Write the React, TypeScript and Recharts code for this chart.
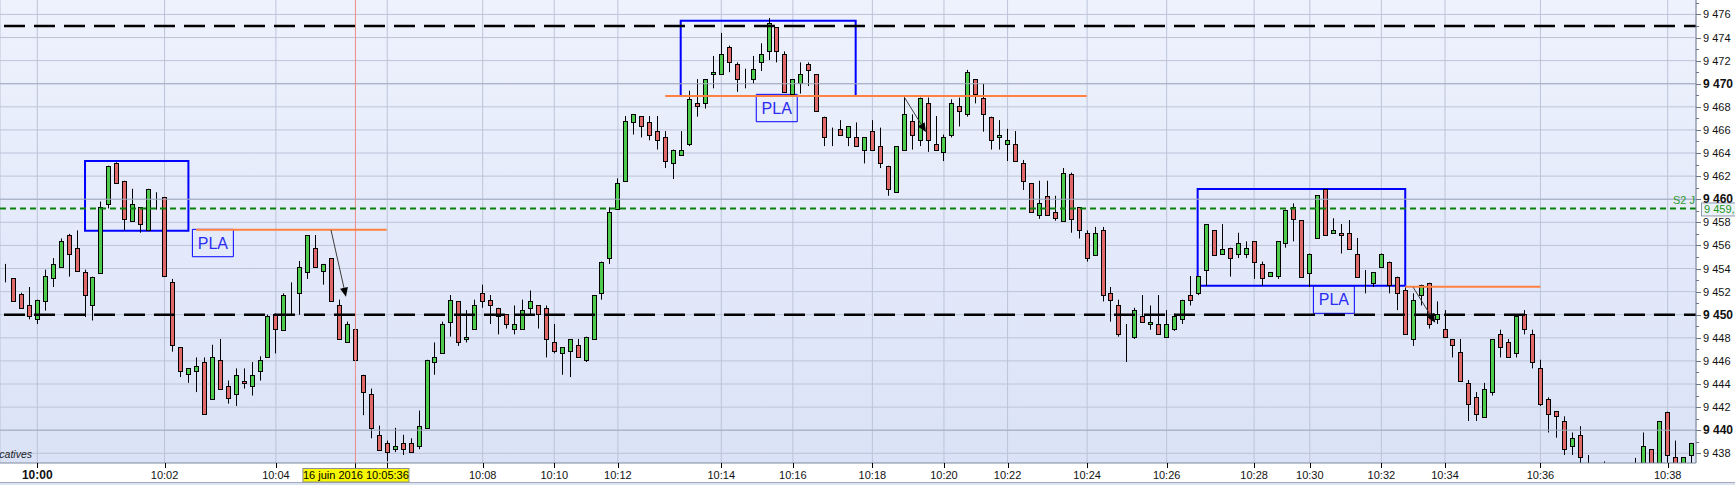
import React from "react";
import { ComposedChart, Bar, XAxis, YAxis, CartesianGrid, ReferenceLine, ReferenceArea } from "recharts";

// 10-second candles, index 0..212
const OPEN = [
  9452.8, 9453.15, 9451.8, 9450.8, 9449.6, 9451.2, 9453.15, 9454.1, 9456.9, 9455.8,
  9453.7, 9450.8, 9453.6, 9459.6, 9463.1, 9461.6, 9458.1, 9459.3, 9457.3, 9460.4,
  9460.2, 9452.8, 9447.2, 9444.9, 9445.1, 9445.9, 9442.7, 9446.1, 9443.8, 9443.1,
  9444.3, 9443.8, 9445.1, 9446.3, 9450.05, 9448.7, 9452.1, 9451.85, 9453.7, 9455.8,
  9453.8, 9454.9, 9450.8, 9447.6, 9448.8, 9444.8, 9443.1, 9439.6, 9438.9, 9438.35,
  9438.9, 9438.9, 9438.6, 9440.2, 9445.9, 9446.65, 9449.4, 9451.15, 9447.9, 9448.8,
  9451.85, 9451.3, 9450.6, 9450.05, 9448.8, 9448.8, 9450.6, 9450.8, 9450.6, 9447.6,
  9446.65, 9446.85, 9447.35, 9446.1, 9447.9, 9451.85, 9454.9, 9459.15, 9461.6, 9466.65,
  9467.2, 9466.65, 9465.9, 9465.35, 9463.1, 9463.8, 9464.8, 9468.3, 9468.3, 9470.8,
  9470.8, 9473.15, 9471.7, 9470.15, 9470.4, 9471.85, 9472.8, 9474.9, 9472.6, 9469.15,
  9470.1, 9471.7, 9470.8, 9467.15, 9465.9, 9466.1, 9465.35, 9465.35, 9464.3, 9465.9,
  9464.6, 9462.9, 9460.65, 9464.3, 9466.8, 9465.1, 9468.3, 9464.8, 9464.1, 9465.6,
  9468.1, 9467.4, 9470.4, 9468.8, 9467.15, 9465.35, 9464.8, 9464.8, 9463.1, 9461.4,
  9458.6, 9460.3, 9458.86, 9458.14, 9462.2, 9459.3, 9457.1, 9455.14, 9457.3, 9451.85,
  9450.8, 9447.9, 9448.1, 9449.9, 9449.2, 9449.2, 9448.1, 9448.8, 9449.6, 9451.7,
  9451.85, 9453.87, 9457.3, 9455.3, 9455.8, 9455.3, 9455.3, 9456.35, 9454.4, 9453.35,
  9453.35, 9456.2, 9459.3, 9458.2, 9453.64, 9456.6, 9460.9, 9457.1, 9457.1, 9457.1,
  9455.3, 9453.2, 9452.77, 9454.1, 9454.6, 9453.3, 9452.1, 9447.9, 9451.7, 9452.77,
  9449.6, 9448.8, 9447.9, 9446.8, 9444.1, 9442.85, 9441.1, 9443.3, 9448.3, 9447.6,
  9446.65, 9450.1, 9448.3, 9445.35, 9442.7, 9441.66, 9440.8, 9438.6, 9439.6, 9436.9,
  9436.4, 9436.2, 9436.5, 9435.9, 9436.3, 9436.6, 9436.9, 9438.35, 9436.8, 9441.6,
  9437.65, 9436.6, 9437.85,
];
const HIGH = [
  9454.4, 9453.15, 9451.9, 9452.4, 9451.3, 9453.9, 9454.9, 9456.6, 9457.0, 9457.3,
  9453.9, 9453.3, 9459.8, 9462.9, 9463.2, 9461.6, 9460.9, 9459.3, 9460.9, 9460.6,
  9460.2, 9453.1, 9447.2, 9445.35, 9446.3, 9446.3, 9447.4, 9447.9, 9444.3, 9445.35,
  9445.35, 9445.9, 9446.4, 9450.0, 9450.1, 9451.85, 9452.8, 9454.65, 9456.9, 9456.9,
  9454.4, 9454.9, 9451.3, 9449.4, 9449.65, 9444.8, 9443.6, 9440.4, 9439.1, 9440.2,
  9439.6, 9439.3, 9441.7, 9446.1, 9447.6, 9449.4, 9451.7, 9451.15, 9450.4, 9451.3,
  9452.6, 9451.7, 9450.6, 9450.05, 9450.8, 9451.3, 9452.1, 9450.8, 9450.8, 9449.2,
  9447.2, 9447.9, 9447.9, 9448.1, 9451.7, 9454.6, 9459.3, 9461.8, 9467.2, 9467.35,
  9467.2, 9467.2, 9467.2, 9465.9, 9464.3, 9465.9, 9469.4, 9470.4, 9470.4, 9472.4,
  9474.4, 9473.3, 9471.85, 9471.3, 9472.4, 9473.5, 9475.7, 9474.9, 9472.8, 9470.4,
  9471.85, 9471.85, 9470.8, 9467.15, 9466.2, 9466.85, 9466.3, 9466.65, 9465.35, 9466.85,
  9466.2, 9462.9, 9464.6, 9468.9, 9467.35, 9468.8, 9468.8, 9467.2, 9465.6, 9468.65,
  9468.8, 9471.2, 9470.4, 9470.0, 9467.15, 9466.85, 9466.1, 9465.9, 9463.4, 9461.4,
  9461.6, 9461.6, 9460.3, 9462.7, 9462.3, 9459.3, 9457.3, 9457.6, 9457.6, 9452.4,
  9451.3, 9449.2, 9450.6, 9451.7, 9450.8, 9451.7, 9450.4, 9450.1, 9451.3, 9453.35,
  9453.35, 9457.85, 9457.3, 9457.85, 9455.8, 9457.1, 9456.35, 9456.35, 9454.6, 9453.7,
  9456.35, 9459.1, 9459.64, 9458.2, 9455.3, 9460.33, 9460.9, 9458.35, 9457.85, 9458.2,
  9456.64, 9453.87, 9453.7, 9455.3, 9454.6, 9453.3, 9452.4, 9451.85, 9452.6, 9452.77,
  9451.15, 9450.4, 9447.9, 9447.9, 9444.35, 9443.3, 9444.1, 9447.9, 9448.7, 9447.9,
  9449.9, 9450.4, 9448.7, 9446.1, 9442.85, 9441.66, 9441.2, 9439.8, 9440.35, 9437.85,
  9436.9, 9437.3, 9436.9, 9436.6, 9436.9, 9437.6, 9439.8, 9438.35, 9440.8, 9441.6,
  9439.1, 9437.65, 9438.9,
];
const LOW = [
  9452.8, 9451.2, 9450.6, 9449.6, 9449.2, 9450.35, 9452.4, 9454.1, 9453.3, 9453.8,
  9449.8, 9449.5, 9453.6, 9459.2, 9461.4, 9457.3, 9458.1, 9457.1, 9457.3, 9459.1,
  9453.35, 9446.8, 9444.6, 9444.1, 9443.3, 9441.4, 9442.7, 9443.6, 9442.3, 9442.1,
  9443.6, 9443.0, 9444.3, 9446.3, 9446.65, 9448.7, 9450.0, 9450.0, 9453.1, 9454.1,
  9452.6, 9451.15, 9447.9, 9447.6, 9446.1, 9441.3, 9439.3, 9438.3, 9437.3, 9438.1,
  9437.85, 9438.1, 9438.35, 9440.2, 9444.8, 9446.65, 9448.1, 9447.3, 9447.6, 9448.8,
  9450.6, 9449.2, 9448.3, 9448.8, 9448.3, 9448.8, 9449.9, 9448.8, 9446.3, 9446.65,
  9444.8, 9444.6, 9446.3, 9445.9, 9447.9, 9451.3, 9454.4, 9459.15, 9461.6, 9465.6,
  9465.35, 9465.1, 9464.3, 9462.7, 9461.75, 9463.8, 9464.6, 9467.15, 9467.85, 9469.6,
  9470.8, 9471.0, 9469.3, 9469.6, 9470.0, 9471.1, 9472.05, 9471.85, 9469.3, 9469.15,
  9469.15, 9469.8, 9467.6, 9464.6, 9464.6, 9465.6, 9464.6, 9464.6, 9463.1, 9464.3,
  9462.7, 9460.3, 9460.65, 9464.3, 9464.3, 9464.6, 9464.1, 9464.3, 9463.3, 9465.35,
  9466.3, 9467.15, 9468.3, 9465.85, 9464.3, 9464.3, 9463.3, 9463.3, 9460.8, 9458.86,
  9458.3, 9458.6, 9458.14, 9458.14, 9457.1, 9456.6, 9454.6, 9455.14, 9451.15, 9449.4,
  9448.1, 9445.9, 9447.9, 9449.4, 9448.7, 9448.3, 9448.1, 9448.6, 9449.2, 9450.8,
  9451.7, 9452.5, 9455.14, 9455.3, 9453.3, 9454.9, 9454.9, 9453.1, 9452.5, 9453.35,
  9453.1, 9455.8, 9456.35, 9453.3, 9452.4, 9456.6, 9456.9, 9457.1, 9455.3, 9455.66,
  9453.3, 9451.85, 9452.4, 9454.1, 9451.85, 9450.4, 9448.3, 9447.3, 9450.8, 9448.8,
  9449.2, 9448.1, 9446.3, 9444.3, 9440.8, 9440.8, 9441.1, 9443.0, 9446.3, 9446.3,
  9446.3, 9448.3, 9445.35, 9442.1, 9439.8, 9439.35, 9437.85, 9437.85, 9436.9, 9436.0,
  9435.8, 9435.6, 9435.5, 9435.2, 9435.6, 9436.2, 9436.5, 9436.3, 9436.5, 9436.8,
  9436.2, 9436.3, 9436.8,
];
const CLOSE = [
  9452.8, 9451.2, 9450.6, 9449.9, 9451.3, 9453.35, 9454.35, 9456.35, 9455.3, 9453.8,
  9451.7, 9453.3, 9459.3, 9462.9, 9461.4, 9458.3, 9459.6, 9457.85, 9460.85, 9460.4,
  9453.35, 9447.4, 9445.1, 9445.35, 9445.6, 9441.4, 9446.3, 9443.6, 9442.8, 9444.8,
  9444.1, 9444.8, 9446.1, 9449.9, 9448.8, 9451.7, 9452.1, 9454.1, 9456.9, 9454.1,
  9454.4, 9451.15, 9447.9, 9449.2, 9446.1, 9443.3, 9440.2, 9438.3, 9438.1, 9438.6,
  9438.35, 9438.1, 9440.4, 9446.1, 9446.3, 9449.2, 9451.3, 9447.6, 9448.1, 9450.8,
  9451.15, 9450.8, 9449.9, 9449.2, 9449.2, 9450.4, 9451.15, 9450.1, 9447.9, 9446.85,
  9447.2, 9447.9, 9446.3, 9448.1, 9451.7, 9454.6, 9458.9, 9461.4, 9466.8, 9467.35,
  9466.3, 9465.6, 9465.1, 9463.3, 9464.3, 9464.3, 9468.65, 9468.1, 9470.4, 9471.0,
  9472.6, 9471.85, 9470.4, 9470.15, 9471.3, 9472.6, 9475.3, 9472.8, 9469.3, 9470.4,
  9470.85, 9471.2, 9467.6, 9465.35, 9465.9, 9465.6, 9466.3, 9464.6, 9465.35, 9464.3,
  9463.1, 9460.9, 9464.6, 9467.35, 9465.6, 9468.8, 9465.1, 9464.3, 9465.35, 9468.3,
  9467.6, 9471.0, 9469.15, 9467.35, 9465.1, 9465.6, 9465.1, 9463.3, 9461.6, 9458.86,
  9459.64, 9458.6, 9458.35, 9462.3, 9458.3, 9457.3, 9454.9, 9457.1, 9451.7, 9451.3,
  9448.3, 9447.9, 9450.4, 9449.4, 9449.4, 9448.3, 9449.2, 9449.9, 9451.3, 9451.3,
  9453.35, 9457.85, 9455.14, 9455.66, 9454.9, 9456.2, 9455.8, 9454.6, 9453.15, 9453.7,
  9456.35, 9459.1, 9458.3, 9453.3, 9455.3, 9460.33, 9456.9, 9457.3, 9456.9, 9455.66,
  9453.3, 9453.2, 9453.7, 9455.3, 9452.6, 9451.85, 9448.3, 9451.3, 9452.6, 9449.2,
  9450.1, 9448.1, 9447.35, 9444.3, 9442.3, 9441.4, 9443.6, 9447.9, 9447.2, 9446.3,
  9449.9, 9448.8, 9445.9, 9442.3, 9441.4, 9441.2, 9438.35, 9439.3, 9437.65, 9436.4,
  9436.0, 9436.6, 9435.9, 9436.3, 9436.6, 9436.9, 9438.6, 9436.8, 9440.8, 9437.85,
  9436.6, 9437.65, 9438.9,
];

const TIME_TICKS = [4, 20, 34, 48, 60, 69, 77, 90, 99, 109, 118, 126, 136, 146, 157, 164, 173, 181, 193, 209];
const TIME_LABELS = ["10:00", "10:02", "10:04", "10:06", "10:08", "10:10", "10:12", "10:14", "10:16", "10:18",
  "10:20", "10:22", "10:24", "10:26", "10:28", "10:30", "10:32", "10:34", "10:36", "10:38"];

const PRICE_LABELS = [9438, 9440, 9442, 9444, 9446, 9448, 9450, 9452, 9454, 9456,
  9458, 9460, 9462, 9464, 9466, 9468, 9470, 9472, 9474, 9476];
const PRICE_MINOR = [9439, 9441, 9443, 9445, 9447, 9449, 9451, 9453, 9455, 9457,
  9459, 9461, 9463, 9465, 9467, 9469, 9471, 9473, 9475, 9477];

// annotations (data coordinates: candle index, price)
const DASHED_LEVELS = [9475, 9450];
const S2_LEVEL = 9459.2;
const BOX_X1 = [10, 84.9, 149.9];
const BOX_X2 = [23, 106.9, 176];
const BOX_Y1 = [9457.27, 9468.94, 9452.51];
const BOX_Y2 = [9463.31, 9475.45, 9460.88];
const PLA_X1 = [23.5, 94.4, 164.45];
const PLA_X2 = [28.65, 99.55, 169.6];
const PLA_Y1 = [9455.02, 9466.71, 9450.12];
const PLA_Y2 = [9457.39, 9469.08, 9452.51];
const ORANGE_X1 = [23.96, 82.96, 176];
const ORANGE_X2 = [47.93, 135.95, 193];
const ORANGE_Y = [9457.36, 9468.94, 9452.42];
const ARROW_X1 = [40.93, 113.0, 177.0];
const ARROW_Y1 = [9457.33, 9468.85, 9452.37];
const ARROW_X2 = [42.81, 115.74, 179.77];
const ARROW_Y2 = [9451.56, 9465.82, 9449.3];
const CURSOR_INDEX = 44;
const CURSOR_TEXT = "16 juin 2016 10:05:36";

const X_MIN = -0.69;
const X_MAX = 212.56;
const Y_MIN = 9437.16;
const Y_MAX = 9477.25;

const GREEN = "#4ccb4c";
const RED = "#e06868";
const GRID = "#bcc4d8";

const rows = OPEN.map((o, i) => ({ i, o, h: HIGH[i], l: LOW[i], c: CLOSE[i], range: [LOW[i], HIGH[i]] }));

const fmtPrice = (v: number) => `${Math.floor(v / 1000)} ${String(v % 1000).padStart(3, "0")}`;

const Candle = (props: any) => {
  const { x, y, width, height, payload } = props;
  if (!payload || x == null || y == null) return null;
  const { o, h, l, c } = payload;
  const k = h > l ? height / (h - l) : 0;
  const py = (v: number) => y + (h - v) * k;
  const cx = Math.round(x + width / 2);
  const top = Math.round(py(Math.max(o, c)));
  const bot = Math.round(py(Math.min(o, c)));
  return (
    <g>
      <line x1={cx + 0.5} x2={cx + 0.5} y1={py(h)} y2={py(l)} stroke="#000" strokeWidth={1} />
      <rect x={cx - 1.5} y={top + 0.5} width={4} height={Math.max(bot - top, 0)}
        fill={c === o ? "#000" : c > o ? GREEN : RED} stroke="#000" strokeWidth={1} />
    </g>
  );
};

const TimeTick = ({ x, y, payload }: any) => {
  const label = TIME_LABELS[TIME_TICKS.indexOf(payload.value)];
  const bold = label === "10:00";
  // the cursor time stamp hides the label underneath it
  const hidden = Math.abs(payload.value - CURSOR_INDEX) < 7;
  const px = Math.round(x) + 0.5;
  return (
    <g>
      <line x1={px} x2={px} y1={y} y2={y + 5} stroke="#000" />
      {!hidden && (
        <text x={x} y={y + 16} textAnchor="middle" fontSize={bold ? 12 : 11}
          fontWeight={bold ? "bold" : "normal"} fill="#111">{label}</text>
      )}
    </g>
  );
};

const PriceTick = ({ x, y, payload }: any) => {
  const v = payload.value;
  const major = v % 2 === 0;
  const bold = v % 10 === 0;
  const py = Math.round(y) + 0.5;
  return (
    <g>
      <line x1={x} x2={x + (major ? 5 : 3)} y1={py} y2={py} stroke="#6d7688" />
      {major && (
        <text x={x + 7} y={y + 4} fontSize={bold ? 12 : 11} fontWeight={bold ? "bold" : "normal"} fill="#111">
          {fmtPrice(v)}
        </text>
      )}
    </g>
  );
};

const S2Label = (props: any) => {
  const { x, y, width } = props.viewBox;
  const right = x + width;
  return (
    <g>
      <text x={right - 1} y={y - 4} textAnchor="end" fontSize={11} fill="#2f9a2f">S2 J</text>
      <rect x={right + 5.5} y={y - 5.5} width={40} height={13} fill="#eef2fb" stroke="#8e99ad" />
      <text x={right + 8} y={y + 4.5} fontSize={11} fill="#1c9a1c">9 459,2</text>
    </g>
  );
};

const CursorLabel = (props: any) => {
  const { x, y, height } = props.viewBox;
  const bottom = y + height;
  const px = Math.round(x) + 0.5;
  return (
    <g>
      <line x1={px} x2={px} y1={bottom} y2={bottom + 5} stroke="#000" />
      <rect x={x - 52.5} y={bottom + 5.5} width={106} height={13.5} fill="#f7f700" stroke="#8f8f8f" />
      <text x={x + 0.5} y={bottom + 16} textAnchor="middle" fontSize={11} fill="#000">{CURSOR_TEXT}</text>
    </g>
  );
};

const Arrow = (props: any) => {
  const { x1, y1, x2, y2 } = props;
  if (x1 == null) return null;
  const a = Math.atan2(y2 - y1, x2 - x1);
  const len = 9;
  const half = 4;
  const bx = x2 - len * Math.cos(a);
  const by = y2 - len * Math.sin(a);
  const pts = `${x2},${y2} ${bx + half * Math.sin(a)},${by - half * Math.cos(a)} ${bx - half * Math.sin(a)},${by + half * Math.cos(a)}`;
  return (
    <g>
      <line x1={x1} y1={y1} x2={bx} y2={by} stroke="#3c3c3c" strokeWidth={1} />
      <polygon points={pts} fill="#000" />
    </g>
  );
};

export default function App() {
  return (
    <div
      style={{
        position: "absolute",
        left: 0,
        top: 0,
        width: 1735,
        height: 485,
        overflow: "hidden",
        fontFamily: '"Liberation Sans", Arial, sans-serif',
        background: "linear-gradient(to bottom, #ffffff 0px, #ffffff 482px, #a2aabb 482px, #a2aabb 483px, #dce3f1 483px)",
      }}
    >
      <ComposedChart width={1735} height={485} data={rows} margin={{ top: 0, right: 0, bottom: 0, left: 0 }}>
        <defs>
          <linearGradient id="plotBg" x1="0" y1="0" x2="0" y2="1">
            <stop offset="0%" stopColor="#eef2fd" />
            <stop offset="100%" stopColor="#dae2f7" />
          </linearGradient>
        </defs>
        <CartesianGrid stroke={GRID} fill="url(#plotBg)" fillOpacity={1}
          horizontalValues={PRICE_LABELS} />
        <XAxis type="number" dataKey="i" domain={[X_MIN, X_MAX]} allowDataOverflow scale="linear"
          ticks={TIME_TICKS} interval={0} height={22} tickSize={0} tickMargin={0} tickLine={false}
          axisLine={{ stroke: "#7f899c" }} tick={<TimeTick />} />
        <YAxis orientation="right" domain={[Y_MIN, Y_MAX]} allowDataOverflow width={39}
          ticks={[...PRICE_LABELS, ...PRICE_MINOR]} interval={0} tickSize={0} tickMargin={0} tickLine={false}
          axisLine={{ stroke: "#7f899c" }} tick={<PriceTick />} />
        {[9440, 9460, 9470].map((v) => (
          <ReferenceLine key={v} y={v} stroke="#a3acc0" strokeWidth={1} />
        ))}
        <ReferenceLine x={CURSOR_INDEX} stroke="#ee8a8a" strokeWidth={1} label={<CursorLabel />} />
        <Bar dataKey="range" barSize={5} isAnimationActive={false} shape={<Candle />} />
        {DASHED_LEVELS.map((v) => (
          <ReferenceLine key={v} y={v} stroke="#000" strokeWidth={2.5} strokeDasharray="21 9" strokeDashoffset={9} />
        ))}
        <ReferenceLine y={S2_LEVEL} stroke="#0a820a" strokeWidth={2} strokeDasharray="6 4" label={<S2Label />} />
        {ORANGE_Y.map((v, k) => (
          <ReferenceLine key={`o${k}`} segment={[{ x: ORANGE_X1[k], y: v }, { x: ORANGE_X2[k], y: v }]}
            stroke="#ff8040" strokeWidth={2} ifOverflow="visible" />
        ))}
        {BOX_X1.map((x1, k) => (
          <ReferenceArea key={`b${k}`} x1={x1} x2={BOX_X2[k]} y1={BOX_Y1[k]} y2={BOX_Y2[k]}
            fill="none" fillOpacity={0} stroke="#0000ff" strokeWidth={2} ifOverflow="visible" />
        ))}
        {PLA_X1.map((x1, k) => (
          <ReferenceArea key={`p${k}`} x1={x1} x2={PLA_X2[k]} y1={PLA_Y1[k]} y2={PLA_Y2[k]}
            fill="none" fillOpacity={0} stroke="#0000ff" strokeWidth={1} ifOverflow="visible"
            label={{ value: "PLA", position: "center", fill: "#2b2bf5", fontSize: 16 }} />
        ))}
        {ARROW_X1.map((x1, k) => (
          <ReferenceLine key={`a${k}`} segment={[{ x: x1, y: ARROW_Y1[k] }, { x: ARROW_X2[k], y: ARROW_Y2[k] }]}
            ifOverflow="visible" shape={<Arrow />} />
        ))}
      </ComposedChart>
      <span
        style={{
          position: "absolute",
          right: 1703,
          top: 448,
          fontSize: 10.5,
          fontStyle: "italic",
          whiteSpace: "nowrap",
          color: "#222",
        }}
      >
        Valeurs indicatives
      </span>
    </div>
  );
}
